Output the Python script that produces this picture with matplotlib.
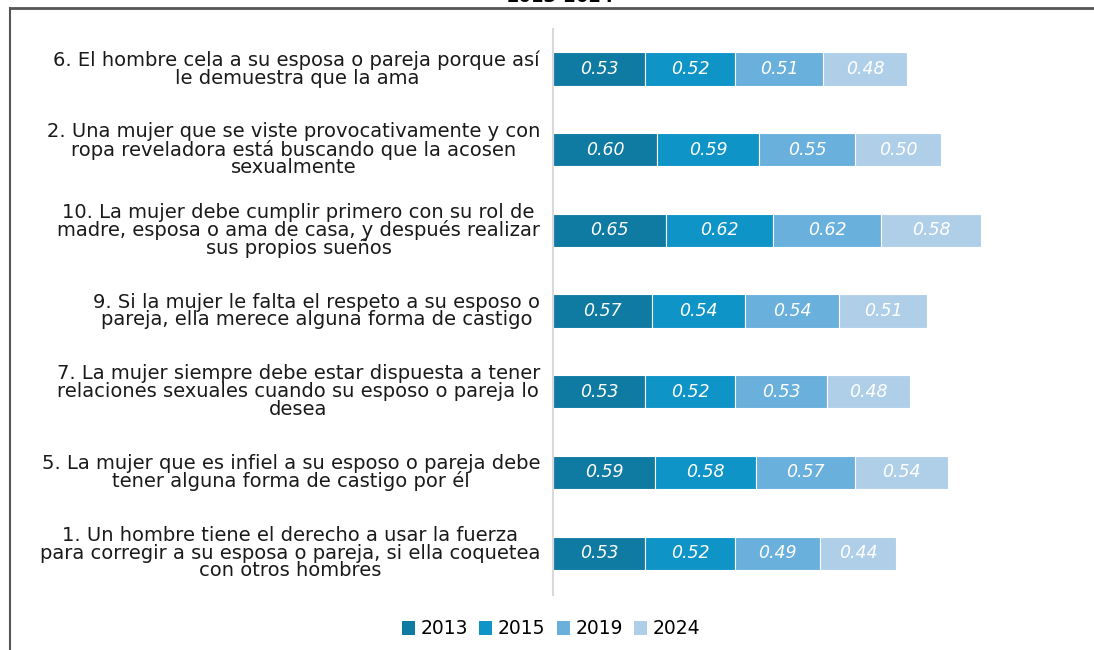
import matplotlib
matplotlib.use("Agg")
import matplotlib.pyplot as plt
from matplotlib.patches import Patch
from matplotlib.lines import Line2D
import numpy as np

# categories, top to bottom
labels = [
    "6. El hombre cela a su esposa o pareja porque así\nle demuestra que la ama",
    "2. Una mujer que se viste provocativamente y con\nropa reveladora está buscando que la acosen\nsexualmente",
    "10. La mujer debe cumplir primero con su rol de\nmadre, esposa o ama de casa, y después realizar\nsus propios sueños",
    "9. Si la mujer le falta el respeto a su esposo o\npareja, ella merece alguna forma de castigo",
    "7. La mujer siempre debe estar dispuesta a tener\nrelaciones sexuales cuando su esposo o pareja lo\ndesea",
    "5. La mujer que es infiel a su esposo o pareja debe\ntener alguna forma de castigo por él",
    "1. Un hombre tiene el derecho a usar la fuerza\npara corregir a su esposa o pareja, si ella coquetea\ncon otros hombres",
]
years = ["2013", "2015", "2019", "2024"]
v2013 = [0.53, 0.60, 0.65, 0.57, 0.53, 0.59, 0.53]
v2015 = [0.52, 0.59, 0.62, 0.54, 0.52, 0.58, 0.52]
v2019 = [0.51, 0.55, 0.62, 0.54, 0.53, 0.57, 0.49]
v2024 = [0.48, 0.50, 0.58, 0.51, 0.48, 0.54, 0.44]
colors = ["#0f7aa2", "#0f94c8", "#69b0dc", "#afcfe9"]

series = [v2013, v2015, v2019, v2024]

fig = plt.figure(figsize=(10.94, 6.5), dpi=100)
W, H = 1094, 650
ax = fig.add_axes([553 / W, 1 - 595 / H, 527 / W, 566 / H])

y = np.arange(len(labels))
left = np.zeros(len(labels))
for vals, col in zip(series, colors):
    vals = np.array(vals)
    ax.barh(y, vals, left=left, height=0.41, color=col,
            edgecolor="white", linewidth=0.8)
    for yi, l, v in zip(y, left, vals):
        ax.text(l + v / 2, yi, f"{v:.2f}", ha="center", va="center",
                color="white", fontsize=12.5, fontstyle="italic")
    left += vals

ax.set_ylim(6.52, -0.496)
ax.set_xlim(0, 3.04)
ax.set_xticks([])
ax.set_yticks([])
for s in ["top", "right", "bottom"]:
    ax.spines[s].set_visible(False)
ax.spines["left"].set_color("#d9d9d9")
ax.spines["left"].set_linewidth(1.5)

for yi, lab in zip(y, labels):
    ax.text(-13 / 173.5, yi, lab, ha="right", va="center",
            multialignment="center", fontsize=14, linespacing=0.92,
            color="#1a1a1a")

handles = [Patch(facecolor=c, edgecolor="none") for c in colors]
fig.legend(handles, years, loc="center", ncol=4,
           bbox_to_anchor=(551 / W, 1 - 629 / H), frameon=False,
           fontsize=13.5, handlelength=0.7, handleheight=0.7,
           handletextpad=0.3, columnspacing=0.6)

# frame lines and clipped title
fig.add_artist(Line2D([10 / W, 1], [1 - 8 / H, 1 - 8 / H], color="#555555", lw=2))
fig.add_artist(Line2D([10 / W, 10 / W], [0, 1 - 8 / H], color="#555555", lw=1.5))
fig.text(560 / W, 1 - 2 / H, "2013-2024", ha="center", va="baseline",
         fontsize=13, fontweight="bold")

fig.savefig("out.png", dpi=100)
